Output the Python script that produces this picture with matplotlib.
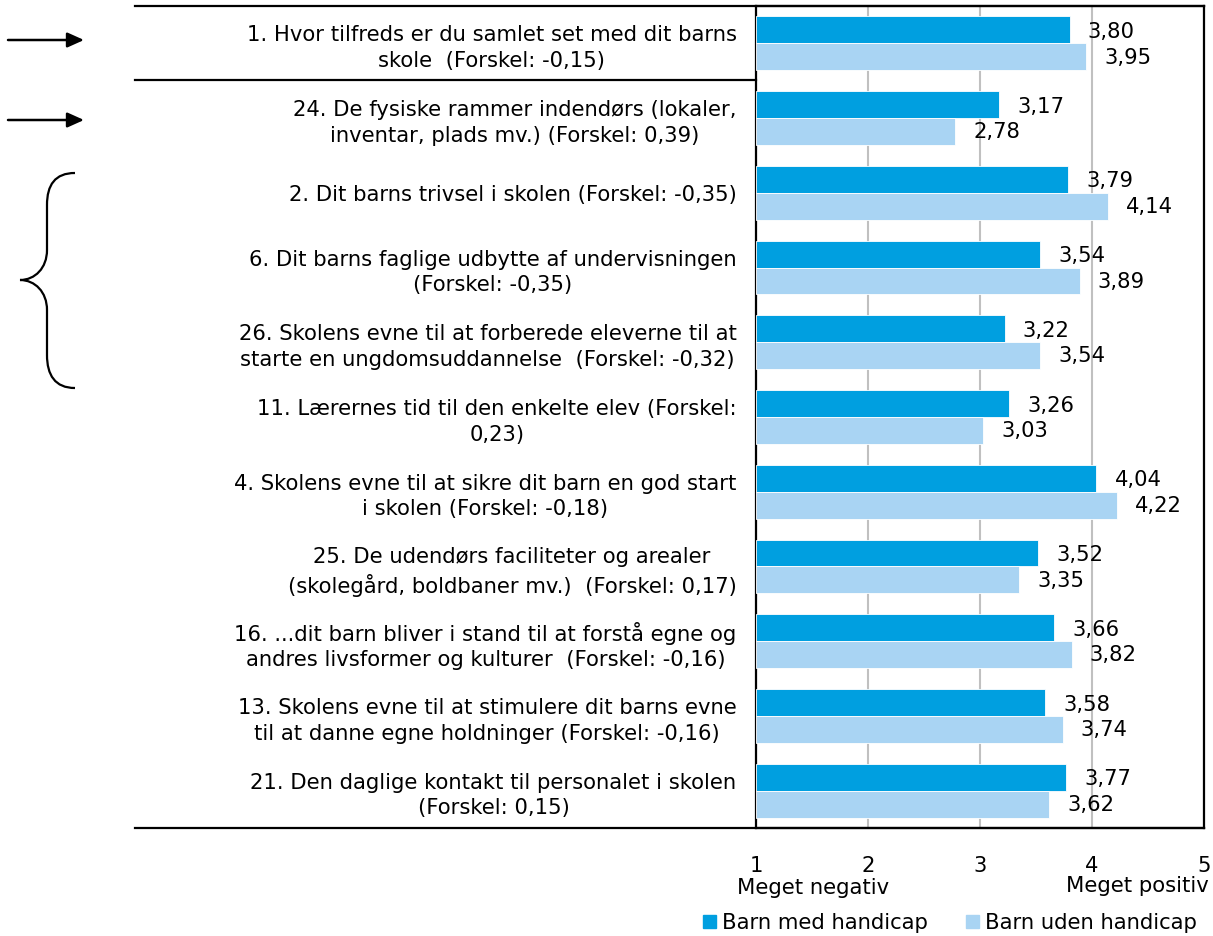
import matplotlib
matplotlib.use("Agg")
import matplotlib.pyplot as plt
from matplotlib.patches import Patch, PathPatch
from matplotlib.path import Path
from matplotlib.lines import Line2D
import numpy as np

categories = [
    "1. Hvor tilfreds er du samlet set med dit barns\nskole  (Forskel: -0,15)",
    "24. De fysiske rammer indendørs (lokaler,\ninventar, plads mv.) (Forskel: 0,39)",
    "2. Dit barns trivsel i skolen (Forskel: -0,35)",
    "6. Dit barns faglige udbytte af undervisningen\n(Forskel: -0,35)",
    "26. Skolens evne til at forberede eleverne til at\nstarte en ungdomsuddannelse  (Forskel: -0,32)",
    "11. Lærernes tid til den enkelte elev (Forskel:\n0,23)",
    "4. Skolens evne til at sikre dit barn en god start\ni skolen (Forskel: -0,18)",
    "25. De udendørs faciliteter og arealer\n(skolegård, boldbaner mv.)  (Forskel: 0,17)",
    "16. ...dit barn bliver i stand til at forstå egne og\nandres livsformer og kulturer  (Forskel: -0,16)",
    "13. Skolens evne til at stimulere dit barns evne\ntil at danne egne holdninger (Forskel: -0,16)",
    "21. Den daglige kontakt til personalet i skolen\n(Forskel: 0,15)",
]
med_handicap = [3.80, 3.17, 3.79, 3.54, 3.22, 3.26, 4.04, 3.52, 3.66, 3.58, 3.77]
uden_handicap = [3.95, 2.78, 4.14, 3.89, 3.54, 3.03, 4.22, 3.35, 3.82, 3.74, 3.62]
series_names = ["Barn med handicap", "Barn uden handicap"]
xticks = [1, 2, 3, 4, 5]

c_dark = "#009FE0"
c_light = "#A9D4F3"
FS = 15.2

W, H = 1213, 936
fig = plt.figure(figsize=(W / 100, H / 100), dpi=100)
ax = fig.add_axes([756 / W, 1 - 828 / H, (1204 - 756) / W, (828 - 6) / H])

n = len(categories)
y = np.arange(n)
bh = 0.36
ax.barh(y - bh / 2, [v - 1 for v in med_handicap], left=1, height=bh, color=c_dark,
        edgecolor="white", linewidth=0.6, zorder=3)
ax.barh(y + bh / 2, [v - 1 for v in uden_handicap], left=1, height=bh, color=c_light,
        edgecolor="white", linewidth=0.6, zorder=3)

for i in range(n):
    ax.annotate(f"{med_handicap[i]:.2f}".replace(".", ","), (med_handicap[i], y[i] - bh / 2),
                xytext=(13, -1.5), textcoords="offset points", ha="left", va="center", fontsize=FS)
    ax.annotate(f"{uden_handicap[i]:.2f}".replace(".", ","), (uden_handicap[i], y[i] + bh / 2),
                xytext=(13, -0.5), textcoords="offset points", ha="left", va="center", fontsize=FS)

ax.set_xlim(1, 5)
ax.set_ylim(n - 0.5, -0.5)
ax.set_xticks(xticks)
ax.set_xticklabels([str(t) for t in xticks], fontsize=FS)
ax.set_yticks(y)
ax.set_yticklabels(categories, fontsize=FS)
for lab in ax.get_yticklabels():
    lab.set_multialignment("center")
    lab.set_linespacing(1.35)
ax.tick_params(axis="x", length=0, pad=20)
ax.tick_params(axis="y", length=0, pad=14)
ax.xaxis.grid(True, color="#C0C0C0", linewidth=1.5, zorder=0)
ax.set_axisbelow(True)
for s in ["left", "right", "top", "bottom"]:
    ax.spines[s].set_color("black")
    ax.spines[s].set_linewidth(1.6)

# overlay in pixel coordinates
ov = fig.add_axes([0, 0, 1, 1], facecolor="none")
ov.set_xlim(0, W)
ov.set_ylim(H, 0)
ov.axis("off")
ov.add_line(Line2D([135, 1204], [6, 6], color="black", lw=1.6))
ov.add_line(Line2D([135, 1204], [828, 828], color="black", lw=1.6))
ov.add_line(Line2D([135, 756], [80, 80], color="black", lw=1.6))

for yy in [40, 120]:
    ov.annotate("", xy=(84, yy), xytext=(8, yy),
                arrowprops=dict(arrowstyle="-|>,head_length=1.0,head_width=0.45", color="black",
                                lw=1.8, shrinkA=0, shrinkB=0))

verts = [(75, 173), (55, 173), (47, 185), (47, 205), (47, 250),
         (47, 268), (35, 280), (20, 280),
         (35, 280), (47, 292), (47, 310), (47, 355),
         (47, 375), (55, 388), (75, 388)]
codes = [Path.MOVETO, Path.CURVE4, Path.CURVE4, Path.CURVE4, Path.LINETO,
         Path.CURVE4, Path.CURVE4, Path.CURVE4,
         Path.CURVE4, Path.CURVE4, Path.CURVE4, Path.LINETO,
         Path.CURVE4, Path.CURVE4, Path.CURVE4]
ov.add_patch(PathPatch(Path(verts, codes), facecolor="none", edgecolor="black", lw=1.6))

ov.text(813, 888, "Meget negativ", ha="center", va="center", fontsize=FS)
ov.text(1137, 886, "Meget positiv", ha="center", va="center", fontsize=FS)

handles = [Patch(color=c_dark, label=series_names[0]), Patch(color=c_light, label=series_names[1])]
fig.legend(handles=handles, loc="center", bbox_to_anchor=(950 / W, 1 - 923 / H), ncol=2,
           frameon=False, fontsize=FS, handlelength=0.6, handleheight=0.6, handletextpad=0.3,
           columnspacing=1.8)

fig.savefig("out.png", dpi=100)
